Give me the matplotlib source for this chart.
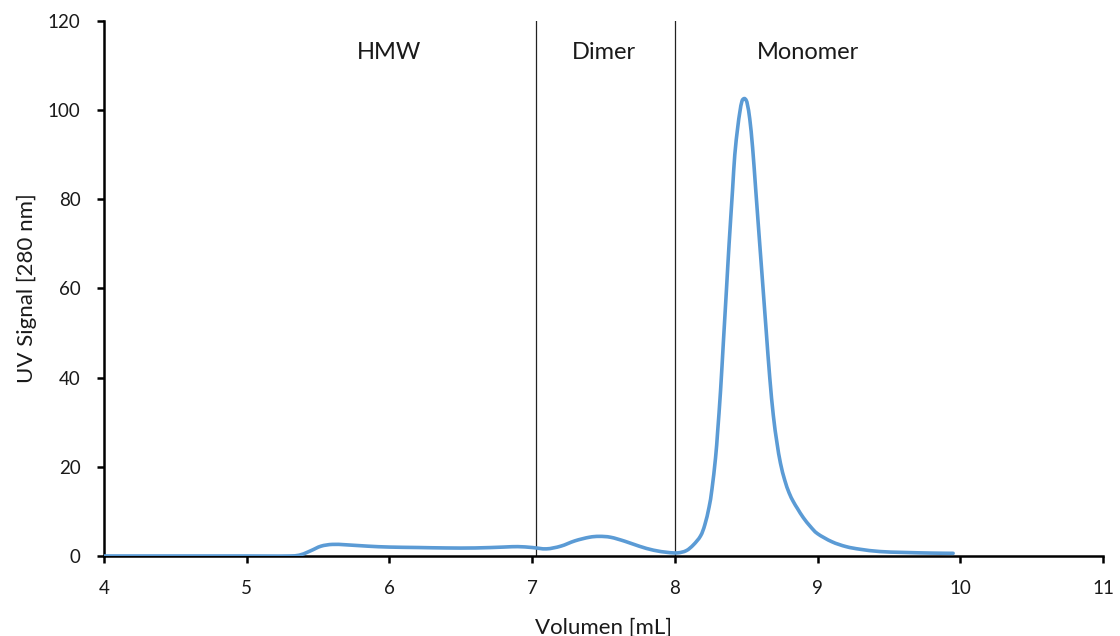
import matplotlib
matplotlib.use("Agg")
import matplotlib.pyplot as plt
from matplotlib.path import Path
from matplotlib.patches import PathPatch
import numpy as np

plt.rcParams['font.family'] = ['Lato', 'DejaVu Sans']

volume = [4.0, 5.0, 5.3, 5.38, 5.45, 5.52, 5.6, 5.7, 5.85, 6.0, 6.2, 6.4, 6.6, 6.8,
          6.9, 7.0, 7.1, 7.2, 7.3, 7.4, 7.47, 7.55, 7.65, 7.75, 7.85, 7.95, 8.02,
          8.08, 8.13, 8.18, 8.21, 8.24, 8.26, 8.285, 8.30, 8.32, 8.34, 8.362, 8.38,
          8.404, 8.42, 8.44, 8.455, 8.47, 8.486, 8.50, 8.51, 8.525, 8.545, 8.567,
          8.59, 8.618, 8.64, 8.665, 8.69, 8.715, 8.74, 8.77, 8.80, 8.83, 8.86,
          8.90, 8.95, 9.0, 9.1, 9.2, 9.3, 9.436, 9.6, 9.8, 9.95]
signal = [0.0, 0.0, 0.0, 0.3, 1.2, 2.2, 2.6, 2.5, 2.2, 2.0, 1.9, 1.8, 1.8, 2.0,
          2.1, 1.9, 1.6, 2.2, 3.4, 4.2, 4.4, 4.2, 3.3, 2.2, 1.3, 0.8, 0.7,
          1.2, 2.5, 4.5, 7.0, 11.0, 15.0, 22.0, 28.0, 37.0, 48.0, 60.0, 70.0,
          82.0, 90.0, 96.0, 99.5, 102.0, 102.6, 102.2, 101.0, 98.0, 91.5, 82.0,
          72.0, 60.0, 50.5, 40.0, 31.5, 25.5, 20.8, 17.0, 14.2, 12.2, 10.6,
          8.6, 6.6, 5.0, 3.2, 2.1, 1.5, 1.0, 0.8, 0.65, 0.6]

boundaries = [7.03, 8.0]
region_labels = ["HMW", "Dimer", "Monomer"]
region_label_x = [6.0, 7.5, 8.93]
region_label_y = 113

x_ticks = [4, 5, 6, 7, 8, 9, 10, 11]
y_ticks = [0, 20, 40, 60, 80, 100, 120]


def smooth_path(xs, ys, tension=1.0 / 6.0):
    """Catmull-Rom style cubic Bezier path through the points (like Excel smoothing)."""
    pts = np.column_stack([xs, ys]).astype(float)
    n = len(pts)
    verts = [pts[0]]
    codes = [Path.MOVETO]
    for i in range(n - 1):
        p0 = pts[i - 1] if i > 0 else pts[i]
        p1 = pts[i]
        p2 = pts[i + 1]
        p3 = pts[i + 2] if i + 2 < n else pts[i + 1]
        c1 = p1 + (p2 - p0) * tension
        c2 = p2 - (p3 - p1) * tension
        verts += [c1, c2, p2]
        codes += [Path.CURVE4, Path.CURVE4, Path.CURVE4]
    return Path(verts, codes)


fig = plt.figure(figsize=(11.2, 6.36), dpi=100)
ax = fig.add_axes([0.0929, 0.1258, 0.8919, 0.8412])

patch = PathPatch(smooth_path(volume, signal), facecolor='none', edgecolor='#5B9BD5',
                  lw=2.6, capstyle='round', joinstyle='round', zorder=3)
ax.add_patch(patch)
for b in boundaries:
    ax.axvline(b, color='#222222', lw=0.9, zorder=2)
for lab, lx in zip(region_labels, region_label_x):
    ax.text(lx, region_label_y, lab, ha='center', va='center', fontsize=17, color='#1a1a1a')

ax.set_xlim(4, 11)
ax.set_ylim(0, 120)
ax.set_xticks(x_ticks)
ax.set_yticks(y_ticks)
ax.spines['top'].set_visible(False)
ax.spines['right'].set_visible(False)
for s in ['left', 'bottom']:
    ax.spines[s].set_linewidth(1.8)
    ax.spines[s].set_color('black')
ax.tick_params(axis='both', direction='out', length=5, width=1.8, labelsize=13.5,
               colors='black', labelcolor='#1a1a1a')
ax.tick_params(axis='x', pad=12)
ax.tick_params(axis='y', pad=12)
ax.set_xlabel('Volumen [mL]', fontsize=16, color='#1a1a1a', labelpad=15)
ax.set_ylabel('UV Signal [280 nm]', fontsize=16, color='#1a1a1a', labelpad=8)

fig.savefig('out.png', dpi=100)
